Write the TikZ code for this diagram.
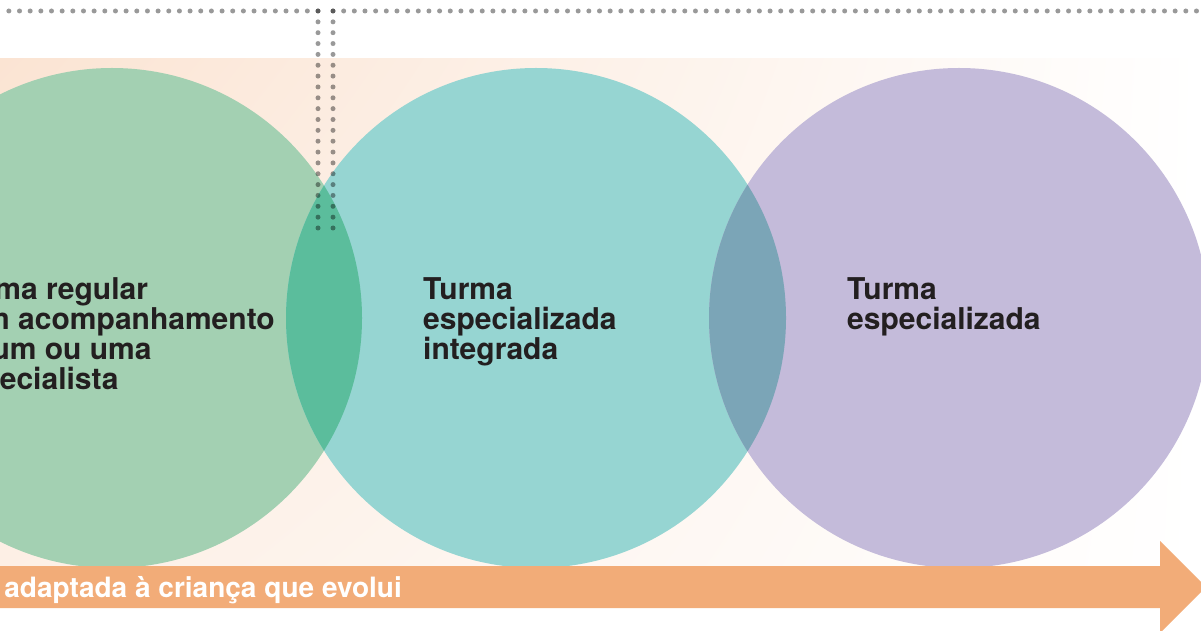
\documentclass[tikz,border=0pt]{standalone}
\usepackage{fontspec}
\setmainfont{TeX Gyre Heros}
\usetikzlibrary{positioning,shadings}

\definecolor{verde}{HTML}{A3D0B2}
\definecolor{turquesa}{HTML}{96D5D2}
\definecolor{lilas}{HTML}{C4BBDA}
\definecolor{lenteverde}{HTML}{5BBD9C}
\definecolor{lenteazul}{HTML}{7BA5B7}
\definecolor{laranja}{HTML}{F2AC78}
\definecolor{pessego}{HTML}{FBE4D3}
\definecolor{pontos}{HTML}{999999}
\definecolor{texto}{HTML}{231F20}

\begin{document}
\begin{tikzpicture}[x=1pt,y=1pt,
    rotulo/.style={align=left, anchor=base west, inner sep=0pt, text=texto,
        font=\fontsize{30}{30}\selectfont\bfseries},
    pontilhado/.style={draw=pontos, line width=5pt, line cap=round, blend mode=multiply}]
    \useasboundingbox (0,0) rectangle (1201,630);
    \clip (0,0) rectangle (1201,630);
    % fundo
    \shade[upper left=pessego, lower left=pessego!55, upper right=white, lower right=white]
        (0,24) rectangle (1201,571);
    % circulos
    \coordinate (cverde) at (112,312);
    \coordinate (cturq) at (536,312);
    \coordinate (clilas) at (959,312);
    \fill[verde] (cverde) circle (250);
    \fill[turquesa] (cturq) circle (250);
    \fill[lilas] (clilas) circle (250);
    \begin{scope}
        \clip (cverde) circle (250);
        \fill[lenteverde] (cturq) circle (250);
    \end{scope}
    \begin{scope}
        \clip (clilas) circle (250);
        \fill[lenteazul] (cturq) circle (250);
    \end{scope}
    % textos (base = ultima linha)
    \node[rotulo] (regular) at (-52,241) {Turma regular\\com acompanhamento\\de um ou uma\\especialista};
    \node[rotulo] (integrada) at (423,271) {Turma\\especializada\\integrada};
    \node[rotulo] (especial) at (847,301) {Turma\\especializada};
    % seta
    \fill[laranja] (0,22) coordinate(sbl) -- (1160,22) -- (1160,-3) coordinate(pb)
        -- (1206,43) coordinate(ponta) -- (1160,89) coordinate(pt) -- (1160,64) -- (0,64) coordinate(stl) -- cycle;
    \node[anchor=base east, inner sep=0pt, text=white, font=\fontsize{28}{30}\selectfont\bfseries]
        (resposta) at (402,33) {adaptada à criança que evolui};
    % pontilhados
    \coordinate (ve) at (318,619);
    \coordinate (vd) at (333,619);
    \begin{scope}[pontilhado]
        \draw[dash pattern=on 0pt off 10.85pt] (318,402) -- (ve);
        \draw[dash pattern=on 0pt off 10.85pt] (333,402) -- (vd);
        \draw[dash pattern=on 0pt off 10.66pt] (ve) -- (0,619);
        \draw[dash pattern=on 0pt off 10.66pt] (vd) -- (1201,619);
    \end{scope}
\end{tikzpicture}
\end{document}
